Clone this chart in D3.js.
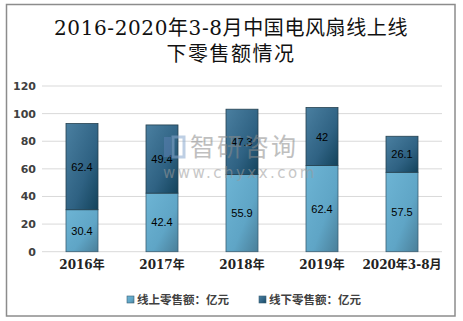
<!DOCTYPE html>
<html><head><meta charset="utf-8">
<script src="https://cdn.jsdelivr.net/npm/d3@7"></script>
<style>body{margin:0;background:#fff}svg{display:block}</style>
</head><body>
<script>
const categories = ["2016年","2017年","2018年","2019年","2020年3-8月"];
const online = [30.4, 42.4, 55.9, 62.4, 57.5];
const offline = [62.4, 49.4, 47.3, 42, 26.1];
const seriesNames = ["线上零售额：亿元","线下零售额：亿元"];
const yTicks = [0,20,40,60,80,100,120];
const titleLines = ["2016-2020年3-8月中国电风扇线上线","下零售额情况"];

const W=463,H=321;
const svg=d3.select("body").append("svg").attr("width",W).attr("height",H);
const defs=svg.append("defs");
function grad(id,stops){const g=defs.append("linearGradient").attr("id",id).attr("x1","0").attr("y1","0").attr("x2","1").attr("y2","1");
 stops.forEach(s=>g.append("stop").attr("offset",s[0]).attr("stop-color",s[1]));}
grad("gLight",[[0,"#6db4d4"],[0.6,"#5fa5c6"],[1,"#4a7f99"]]);
grad("gDark",[[0,"#4a7fa0"],[0.6,"#2f6283"],[1,"#13435c"]]);

svg.append("rect").attr("x",6.5).attr("y",4.5).attr("width",448.5).attr("height",311.5).attr("fill","#fff").attr("stroke","#8c8c8c").attr("stroke-width",1.5);

const serif="'DejaVu Serif','Liberation Serif','Noto Sans CJK SC',serif";
svg.selectAll("text.title").data(titleLines).join("text").attr("class","title")
 .attr("x",231).attr("y",(d,i)=>35+i*26).attr("text-anchor","middle")
 .attr("font-family",serif).attr("font-size",20).attr("letter-spacing",(d,i)=>i?1.5:0.6).attr("fill","#111").text(d=>d);

const x=d3.scaleBand().domain(categories).range([42,442]).paddingInner(0.6).paddingOuter(0.3);
const y=d3.scaleLinear().domain([0,120]).range([251.7,86]);

const grid=svg.append("g");
grid.selectAll("line").data(yTicks).join("line")
 .attr("x1",42).attr("x2",442).attr("y1",d=>y(d)).attr("y2",d=>y(d))
 .attr("stroke","#d9d9d9").attr("stroke-width",1);

const yAxis=svg.append("g").attr("transform","translate(42,0)")
 .call(d3.axisLeft(y).tickValues(yTicks).tickSize(0).tickPadding(6));
yAxis.select(".domain").remove();
yAxis.selectAll("text").attr("font-family","'DejaVu Sans','Liberation Sans',sans-serif").attr("font-weight","bold").attr("font-size",11).attr("fill","#404040");

const xAxis=svg.append("g").attr("transform","translate(0,251.7)")
 .call(d3.axisBottom(x).tickSize(0).tickPadding(9));
xAxis.select(".domain").remove();
xAxis.selectAll("text").attr("font-family",serif).attr("font-weight","bold").attr("font-size",12).attr("fill","#222");

const data=categories.map((c,i)=>({c,a:online[i],b:offline[i]}));
const g=svg.append("g");
g.selectAll("rect.on").data(data).join("rect").attr("class","on")
 .attr("x",d=>x(d.c)).attr("width",x.bandwidth()).attr("y",d=>y(d.a)).attr("height",d=>y(0)-y(d.a))
 .attr("fill","url(#gLight)").attr("stroke","#3b5f73").attr("stroke-width",0.8);
g.selectAll("rect.off").data(data).join("rect").attr("class","off")
 .attr("x",d=>x(d.c)).attr("width",x.bandwidth()).attr("y",d=>y(d.a+d.b)).attr("height",d=>y(d.a)-y(d.a+d.b))
 .attr("fill","url(#gDark)").attr("stroke","#23404f").attr("stroke-width",0.8);

const lf="'Liberation Sans','DejaVu Sans',sans-serif";
g.selectAll("text.lon").data(data).join("text").attr("class","lon")
 .attr("x",d=>x(d.c)+x.bandwidth()/2).attr("y",d=>y(d.a/2)+4).attr("text-anchor","middle")
 .attr("font-family",lf).attr("font-size",11).attr("fill","#000").text(d=>d.a);
g.selectAll("text.loff").data(data).join("text").attr("class","loff")
 .attr("x",d=>x(d.c)+x.bandwidth()/2).attr("y",d=>y(d.a+d.b/2)+4).attr("text-anchor","middle")
 .attr("font-family",lf).attr("font-size",11).attr("fill","#000").text(d=>d.b);

// watermark
const wm=svg.append("g").attr("opacity",0.55);
wm.append("rect").attr("x",164).attr("y",137).attr("width",7).attr("height",20).attr("fill","#5a7fb0");
wm.append("rect").attr("x",173).attr("y",137).attr("width",11).attr("height",20).attr("fill","none").attr("stroke","#8aa9cf").attr("stroke-width",3);
wm.append("text").attr("x",190).attr("y",156).attr("font-family","'Noto Sans CJK SC',sans-serif").attr("font-size",25).attr("fill","#8c8c8c").attr("letter-spacing",2).text("智研咨询");
wm.append("text").attr("x",163).attr("y",178).attr("font-family","'DejaVu Sans',sans-serif").attr("font-size",15).attr("fill","#9a9a9a").attr("letter-spacing",2.5).text("www.chyxx.com");

const leg=svg.append("g");
const lx=[127,259], colors=["url(#gLight)","url(#gDark)"];
seriesNames.forEach((n,i)=>{
 leg.append("rect").attr("x",lx[i]).attr("y",296).attr("width",7).attr("height",7).attr("fill",colors[i]).attr("stroke","#3b5f73").attr("stroke-width",0.6);
 leg.append("text").attr("x",lx[i]+10).attr("y",304).attr("font-family","'Noto Sans CJK SC',sans-serif").attr("font-weight","bold").attr("font-size",11.5).attr("fill","#404040").text(n);
});
</script>
</body></html>
